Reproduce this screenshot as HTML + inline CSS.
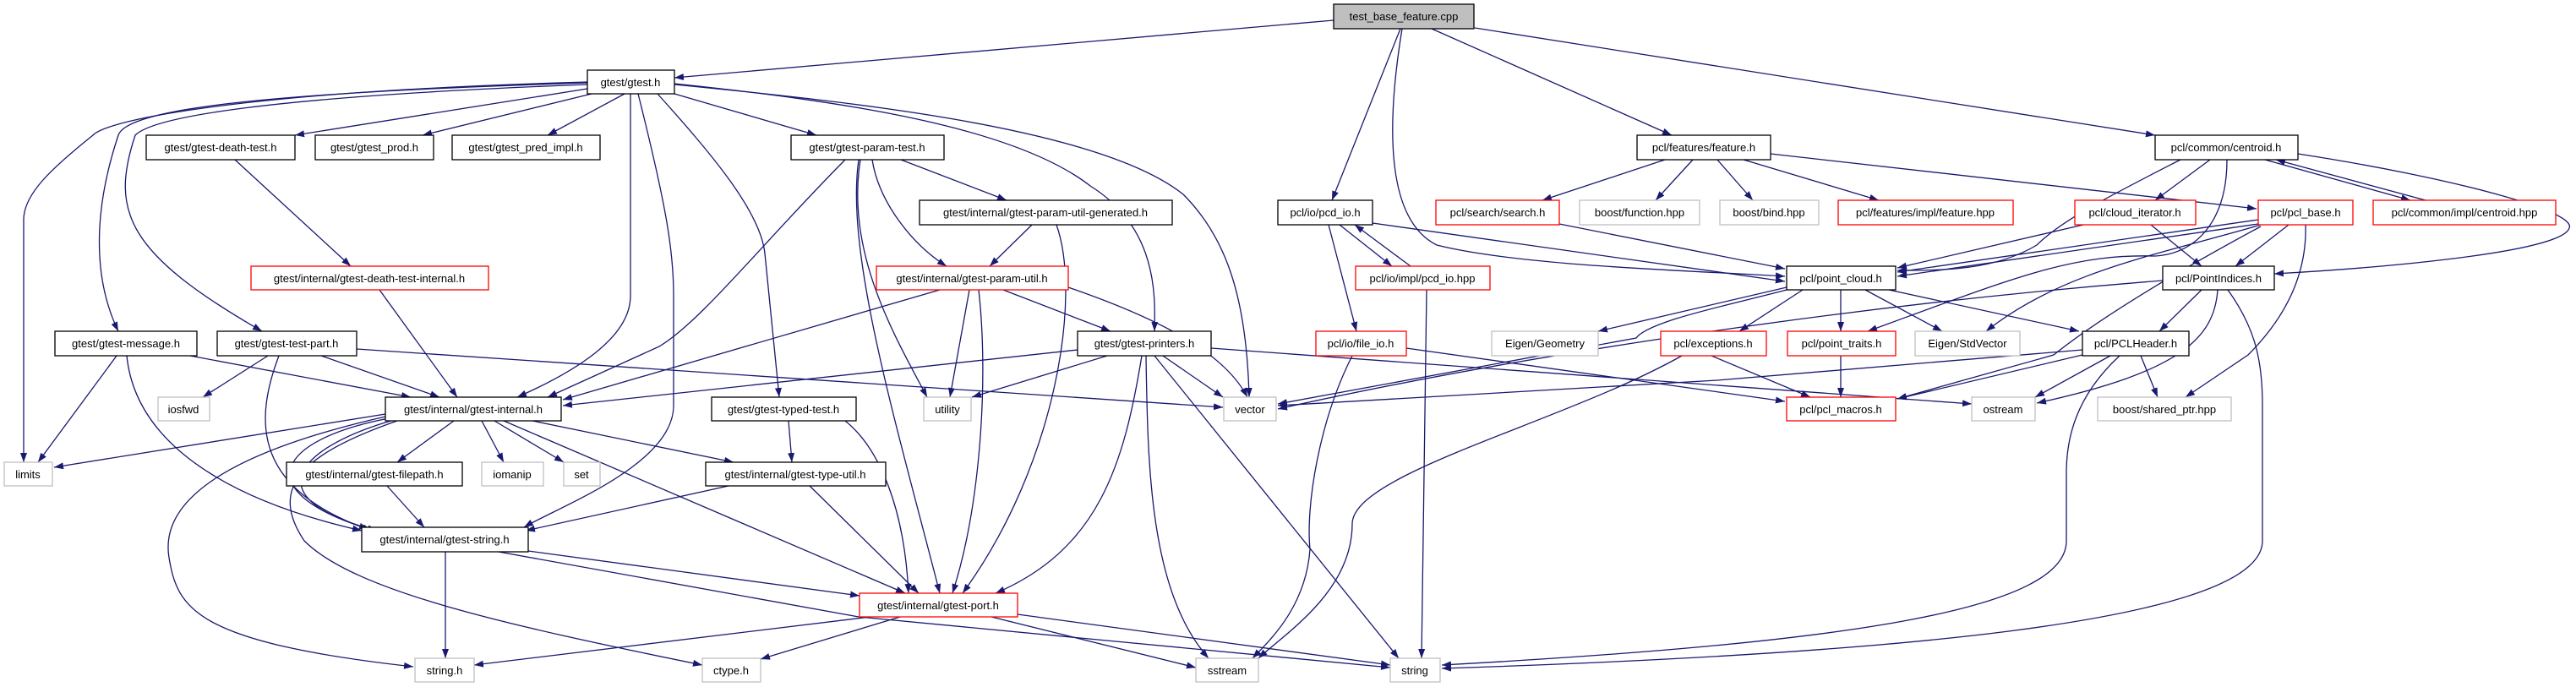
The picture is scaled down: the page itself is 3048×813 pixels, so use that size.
<!DOCTYPE html>
<html><head><meta charset="utf-8"><style>
html,body{margin:0;padding:0;background:#fff;}
svg{display:block;}
text{font-family:"Liberation Sans",sans-serif;font-size:13px;fill:#000;text-anchor:middle;}
.e{fill:none;stroke:#191970;stroke-width:1.3;marker-end:url(#a);}
.n rect{fill:#fff;stroke:#000;stroke-width:1.3;}
.r rect{fill:#fff;stroke:#ff0000;stroke-width:1.3;}
.g rect{fill:#fff;stroke:#bfbfbf;stroke-width:1.3;}
</style></head><body>
<svg width="3048" height="813" viewBox="0 0 3048 813" xmlns="http://www.w3.org/2000/svg">
<defs><marker id="a" markerUnits="userSpaceOnUse" markerWidth="11" markerHeight="8" refX="11" refY="4" orient="auto"><path d="M0,0 L11,4 L0,8 z" fill="#191970"/></marker></defs>
<g>
<path class="e" d="M1578,24 L798,92"/>
<path class="e" d="M1657,34 L1576,237"/>
<path class="e" d="M1659,34 C1640,150 1640,260 1700,290 C1800,315 2000,320 2112,327"/>
<path class="e" d="M1694,34 L1978,160"/>
<path class="e" d="M1745,33 L2550,160"/>
<path class="e" d="M695,105 L349,160"/>
<path class="e" d="M700,111 L500,160"/>
<path class="e" d="M739,111 L648,160"/>
<path class="e" d="M798,111 L966,160"/>
<path class="e" d="M695,98 C300,110 150,130 140,160 C110,250 110,330 140,392"/>
<path class="e" d="M695,100 C300,115 180,140 160,160 C130,250 150,300 310,392"/>
<path class="e" d="M695,97 C300,108 130,140 110,160 C60,200 28,230 28,260 L28,547"/>
<path class="e" d="M746,111 L746,350 C746,400 680,440 612,470"/>
<path class="e" d="M755,111 C790,250 797,300 797,350 L797,480 C797,550 660,600 620,624"/>
<path class="e" d="M778,111 C840,180 900,250 905,300 L915,400 L922,470"/>
<path class="e" d="M798,99 C1000,120 1200,150 1290,220 C1370,270 1367,350 1366,392"/>
<path class="e" d="M798,100 C1000,120 1300,150 1400,230 C1450,280 1475,350 1478,470"/>
<path class="e" d="M278,189 L415,315"/>
<path class="e" d="M449,343 L541,470"/>
<path class="e" d="M1000,189 C900,290 830,380 780,410 L648,470"/>
<path class="e" d="M1066,189 L1191,237"/>
<path class="e" d="M1032,189 C1040,240 1080,290 1120,315"/>
<path class="e" d="M1018,189 C1000,300 1060,400 1097,470"/>
<path class="e" d="M1016,189 C1000,300 1060,500 1112,702"/>
<path class="e" d="M1221,266 L1171,315"/>
<path class="e" d="M1250,266 C1280,350 1250,550 1139,702"/>
<path class="e" d="M1187,343 L1314,392"/>
<path class="e" d="M1112,343 L666,473"/>
<path class="e" d="M1147,343 L1124,470"/>
<path class="e" d="M1158,343 C1170,450 1160,600 1127,702"/>
<path class="e" d="M1264,340 C1380,380 1450,420 1476,470"/>
<path class="e" d="M1275,414 L666,480"/>
<path class="e" d="M1310,421 L1150,470"/>
<path class="e" d="M1376,421 L1447,470"/>
<path class="e" d="M1351,421 C1330,550 1300,650 1178,702"/>
<path class="e" d="M1356,421 C1358,550 1360,700 1430,779"/>
<path class="e" d="M1366,421 L1655,779"/>
<path class="e" d="M1433,412 L2333,478"/>
<path class="e" d="M138,421 L45,547"/>
<path class="e" d="M225,421 L486,470"/>
<path class="e" d="M150,421 C160,520 260,590 428,628"/>
<path class="e" d="M317,421 L240,470"/>
<path class="e" d="M380,421 L520,470"/>
<path class="e" d="M330,421 C300,500 300,580 440,628"/>
<path class="e" d="M422,413 L1447,482"/>
<path class="e" d="M456,490 L64,553"/>
<path class="e" d="M537,498 L470,547"/>
<path class="e" d="M570,498 L596,547"/>
<path class="e" d="M585,498 L667,547"/>
<path class="e" d="M630,498 L868,547"/>
<path class="e" d="M460,495 C330,520 290,580 436,626"/>
<path class="e" d="M466,497 C350,530 300,590 446,628"/>
<path class="e" d="M456,493 C250,540 190,600 200,660 C210,720 230,760 489,789"/>
<path class="e" d="M470,498 C350,540 320,580 360,640 C420,700 600,740 831,787"/>
<path class="e" d="M596,498 L1071,702"/>
<path class="e" d="M933,498 L937,547"/>
<path class="e" d="M1000,498 C1040,530 1070,600 1075,702"/>
<path class="e" d="M862,575 L622,628"/>
<path class="e" d="M958,575 L1087,702"/>
<path class="e" d="M458,575 L502,624"/>
<path class="e" d="M527,653 L527,779"/>
<path class="e" d="M625,652 L1017,705"/>
<path class="e" d="M590,653 L1016,730 L1645,790"/>
<path class="e" d="M1030,730 L561,787"/>
<path class="e" d="M1065,730 L900,780"/>
<path class="e" d="M1173,730 L1415,790"/>
<path class="e" d="M1204,727 L1645,787"/>
<path class="e" d="M1585,266 L1647,315"/>
<path class="e" d="M1669,315 L1603,266"/>
<path class="e" d="M1572,266 L1605,392"/>
<path class="e" d="M1624,264 L2112,333"/>
<path class="e" d="M1688,343 L1682,779"/>
<path class="e" d="M1600,421 C1560,500 1545,600 1550,650 C1545,720 1500,760 1482,779"/>
<path class="e" d="M1664,412 L2112,475"/>
<path class="e" d="M1845,265 L2112,318"/>
<path class="e" d="M1970,189 L1825,237"/>
<path class="e" d="M2003,189 L1959,237"/>
<path class="e" d="M2032,189 L2074,237"/>
<path class="e" d="M2063,189 L2223,237"/>
<path class="e" d="M2095,182 L2670,247"/>
<path class="e" d="M2580,189 C2500,230 2440,260 2410,290 C2360,320 2300,320 2245,320"/>
<path class="e" d="M2615,189 L2550,237"/>
<path class="e" d="M2680,189 L2852,237"/>
<path class="e" d="M2870,237 L2693,189"/>
<path class="e" d="M2719,182 C2900,210 3050,250 3040,270 C3030,300 2800,318 2691,324"/>
<path class="e" d="M2635,189 C2635,260 2600,300 2550,303 C2450,300 2380,330 2210,392"/>
<path class="e" d="M2465,266 L2245,317"/>
<path class="e" d="M2545,266 L2605,315"/>
<path class="e" d="M2672,260 L2245,322"/>
<path class="e" d="M2672,265 L2245,327"/>
<path class="e" d="M2708,266 L2645,315"/>
<path class="e" d="M2675,266 C2560,300 2440,320 2350,392"/>
<path class="e" d="M2675,268 C2560,330 2480,380 2430,420 L2245,472"/>
<path class="e" d="M2728,266 C2730,330 2700,380 2660,420 L2586,470"/>
<path class="e" d="M2133,343 L2058,392"/>
<path class="e" d="M2178,343 L2178,392"/>
<path class="e" d="M2207,343 L2298,392"/>
<path class="e" d="M2235,343 L2460,392"/>
<path class="e" d="M2114,340 L1891,392"/>
<path class="e" d="M2114,343 C2050,360 1950,380 1936,400 L1512,478"/>
<path class="e" d="M2559,332 C2200,360 1800,420 1512,484"/>
<path class="e" d="M2605,343 L2555,392"/>
<path class="e" d="M2624,343 C2620,400 2580,440 2410,477"/>
<path class="e" d="M2636,343 C2670,390 2677,430 2677,480 L2677,640 C2677,740 2200,775 1706,791"/>
<path class="e" d="M2508,421 C2455,470 2445,520 2445,560 L2445,640 C2445,720 2200,760 1706,787"/>
<path class="e" d="M2464,414 L2032,450 L1512,480"/>
<path class="e" d="M2464,420 L2245,472"/>
<path class="e" d="M2497,421 L2408,470"/>
<path class="e" d="M2533,421 L2553,470"/>
<path class="e" d="M2178,421 L2178,470"/>
<path class="e" d="M2025,421 L2142,470"/>
<path class="e" d="M1990,421 C1850,500 1600,560 1600,620 C1600,700 1520,750 1489,779"/>
</g>
<g>
<g class="n"><rect x="1578" y="5" width="166" height="29" style="fill:#bfbfbf"/><text x="1661" y="24">test_base_feature.cpp</text></g>
<g class="n"><rect x="695" y="83" width="103" height="28"/><text x="746" y="102">gtest/gtest.h</text></g>
<g class="n"><rect x="173" y="160" width="176" height="29"/><text x="261" y="179">gtest/gtest-death-test.h</text></g>
<g class="n"><rect x="373" y="160" width="140" height="29"/><text x="443" y="179">gtest/gtest_prod.h</text></g>
<g class="n"><rect x="535" y="160" width="175" height="29"/><text x="622" y="179">gtest/gtest_pred_impl.h</text></g>
<g class="n"><rect x="936" y="160" width="181" height="29"/><text x="1026" y="179">gtest/gtest-param-test.h</text></g>
<g class="r"><rect x="297" y="315" width="281" height="28"/><text x="437" y="334">gtest/internal/gtest-death-test-internal.h</text></g>
<g class="n"><rect x="65" y="392" width="168" height="29"/><text x="149" y="411">gtest/gtest-message.h</text></g>
<g class="n"><rect x="257" y="392" width="165" height="29"/><text x="339" y="411">gtest/gtest-test-part.h</text></g>
<g class="n"><rect x="1088" y="237" width="299" height="29"/><text x="1237" y="256">gtest/internal/gtest-param-util-generated.h</text></g>
<g class="r"><rect x="1037" y="315" width="227" height="28"/><text x="1150" y="334">gtest/internal/gtest-param-util.h</text></g>
<g class="n"><rect x="1275" y="392" width="158" height="29"/><text x="1354" y="411">gtest/gtest-printers.h</text></g>
<g class="n"><rect x="1512" y="237" width="112" height="29"/><text x="1568" y="256">pcl/io/pcd_io.h</text></g>
<g class="r"><rect x="1604" y="315" width="159" height="28"/><text x="1683" y="334">pcl/io/impl/pcd_io.hpp</text></g>
<g class="r"><rect x="1557" y="392" width="107" height="29"/><text x="1610" y="411">pcl/io/file_io.h</text></g>
<g class="r"><rect x="1699" y="237" width="146" height="29"/><text x="1772" y="256">pcl/search/search.h</text></g>
<g class="g"><rect x="1869" y="237" width="142" height="29"/><text x="1940" y="256">boost/function.hpp</text></g>
<g class="g"><rect x="1765" y="392" width="126" height="29"/><text x="1828" y="411">Eigen/Geometry</text></g>
<g class="n"><rect x="1937" y="160" width="158" height="29"/><text x="2016" y="179">pcl/features/feature.h</text></g>
<g class="r"><rect x="1965" y="392" width="125" height="29"/><text x="2027" y="411">pcl/exceptions.h</text></g>
<g class="g"><rect x="2035" y="237" width="117" height="29"/><text x="2093" y="256">boost/bind.hpp</text></g>
<g class="r"><rect x="2175" y="237" width="207" height="29"/><text x="2278" y="256">pcl/features/impl/feature.hpp</text></g>
<g class="n"><rect x="2550" y="160" width="169" height="29"/><text x="2634" y="179">pcl/common/centroid.h</text></g>
<g class="r"><rect x="2455" y="237" width="143" height="29"/><text x="2526" y="256">pcl/cloud_iterator.h</text></g>
<g class="r"><rect x="2672" y="237" width="112" height="29"/><text x="2728" y="256">pcl/pcl_base.h</text></g>
<g class="r"><rect x="2808" y="237" width="216" height="29"/><text x="2916" y="256">pcl/common/impl/centroid.hpp</text></g>
<g class="n"><rect x="2114" y="315" width="129" height="28"/><text x="2178" y="334">pcl/point_cloud.h</text></g>
<g class="n"><rect x="2559" y="315" width="132" height="28"/><text x="2625" y="334">pcl/PointIndices.h</text></g>
<g class="r"><rect x="2115" y="392" width="128" height="29"/><text x="2179" y="411">pcl/point_traits.h</text></g>
<g class="g"><rect x="2266" y="392" width="124" height="29"/><text x="2328" y="411">Eigen/StdVector</text></g>
<g class="n"><rect x="2464" y="392" width="126" height="29"/><text x="2527" y="411">pcl/PCLHeader.h</text></g>
<g class="r"><rect x="2114" y="470" width="129" height="28"/><text x="2178" y="489">pcl/pcl_macros.h</text></g>
<g class="g"><rect x="2333" y="470" width="75" height="28"/><text x="2370" y="489">ostream</text></g>
<g class="g"><rect x="2482" y="470" width="158" height="28"/><text x="2561" y="489">boost/shared_ptr.hpp</text></g>
<g class="g"><rect x="187" y="470" width="61" height="28"/><text x="217" y="489">iosfwd</text></g>
<g class="n"><rect x="456" y="470" width="208" height="28"/><text x="560" y="489">gtest/internal/gtest-internal.h</text></g>
<g class="n"><rect x="842" y="470" width="171" height="28"/><text x="927" y="489">gtest/gtest-typed-test.h</text></g>
<g class="g"><rect x="1093" y="470" width="56" height="28"/><text x="1121" y="489">utility</text></g>
<g class="g"><rect x="1448" y="470" width="62" height="28"/><text x="1479" y="489">vector</text></g>
<g class="g"><rect x="5" y="547" width="57" height="28"/><text x="33" y="566">limits</text></g>
<g class="n"><rect x="339" y="547" width="208" height="28"/><text x="443" y="566">gtest/internal/gtest-filepath.h</text></g>
<g class="g"><rect x="570" y="547" width="73" height="28"/><text x="606" y="566">iomanip</text></g>
<g class="g"><rect x="667" y="547" width="43" height="28"/><text x="688" y="566">set</text></g>
<g class="n"><rect x="835" y="547" width="213" height="28"/><text x="941" y="566">gtest/internal/gtest-type-util.h</text></g>
<g class="n"><rect x="428" y="624" width="197" height="29"/><text x="526" y="643">gtest/internal/gtest-string.h</text></g>
<g class="r"><rect x="1017" y="702" width="187" height="28"/><text x="1110" y="721">gtest/internal/gtest-port.h</text></g>
<g class="g"><rect x="491" y="779" width="70" height="28"/><text x="526" y="798">string.h</text></g>
<g class="g"><rect x="831" y="779" width="69" height="28"/><text x="865" y="798">ctype.h</text></g>
<g class="g"><rect x="1415" y="779" width="74" height="28"/><text x="1452" y="798">sstream</text></g>
<g class="g"><rect x="1645" y="779" width="59" height="28"/><text x="1674" y="798">string</text></g>
</g>
</svg>
</body></html>
